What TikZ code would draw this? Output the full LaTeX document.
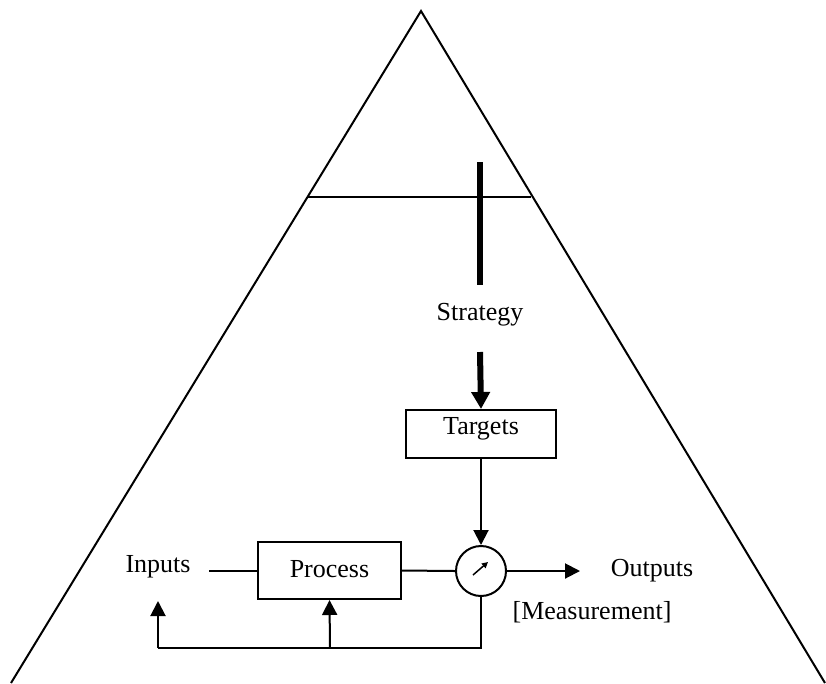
\documentclass[tikz,border=0pt]{standalone}
\usepackage{fontspec}
\setmainfont{Liberation Serif}
\usetikzlibrary{arrows.meta}
\begin{document}
\begin{tikzpicture}[x=1pt,y=-1pt,
  every node/.style={font=\fontsize{26}{30}\selectfont, inner sep=0pt},
  txt/.style={anchor=base},
  boxnode/.style={draw, line width=2pt, rectangle},
  thin/.style={line width=2pt},
  thick/.style={line width=6pt},
  tip/.style={-{Triangle[length=15pt,width=15pt]}},
  bigtip/.style={-{Triangle[length=17pt,width=18pt]}}]
\useasboundingbox (0,0) rectangle (826,683);

% pyramid outline
\coordinate (apex) at (421,11);
\coordinate (bl) at (11,683);
\coordinate (br) at (825,683);
\draw[thin, line join=miter] (bl) -- (apex) -- (br);

% level line across the pyramid
\coordinate (lvlL) at (308,197);
\coordinate (lvlR) at (531,197);
\draw[line width=1.6pt] (lvlL) -- (lvlR);

% strategy axis
\coordinate (barTop) at (480,162);
\coordinate (barBot) at (480,285);
\draw[thick] (barTop) -- (barBot);
\node[txt] (strategy) at (480,320) {Strategy};
\coordinate (arrTop) at (480,352);

% targets
\node[boxnode, minimum width=150pt, minimum height=48pt] (targets) at (481,434) {};
\node[txt] (targetslabel) at (481,434) {Targets};
\draw[thick, bigtip] (arrTop) -- (targets.north);

% process loop
\node[boxnode, minimum width=143pt, minimum height=57pt] (process) at (329.5,570.5) {};
\node[txt] (processlabel) at (329.5,577) {Process};
\node[txt] (inputs) at (158,572) {Inputs};
\coordinate (inEnd) at (209,570.5);
\draw[thin] (inEnd) -- (process.west);

% measurement point
\node[draw, circle, line width=2pt, minimum size=50pt] (meter) at (481,571) {};
\coordinate (needleA) at (473,575);
\coordinate (needleB) at (488,562);
\draw[line width=1.5pt, -{Triangle[length=6pt,width=6pt]}] (needleA) -- (needleB);
\draw[thin] (process.east) -- (meter.west);
\draw[thin, tip] (targets.south) -- (meter.north);

\coordinate (outEnd) at (580,571);
\draw[thin, tip] (meter.east) -- (outEnd);
\node[txt] (outputs) at (652,576) {Outputs};
\node[txt] (measurement) at (592,619) {[Measurement]};

% feedback paths
\coordinate (fbR) at (481,648);
\coordinate (fbM) at (330,648);
\coordinate (fbL) at (158,648);
\coordinate (inTip) at (158,601);
\draw[thin, line join=miter] (meter.south) -- (fbR) -- (fbL);
\draw[thin, tip] (fbL) -- (inTip);
\draw[thin, tip] (fbM) -- (process.south);
\end{tikzpicture}
\end{document}
